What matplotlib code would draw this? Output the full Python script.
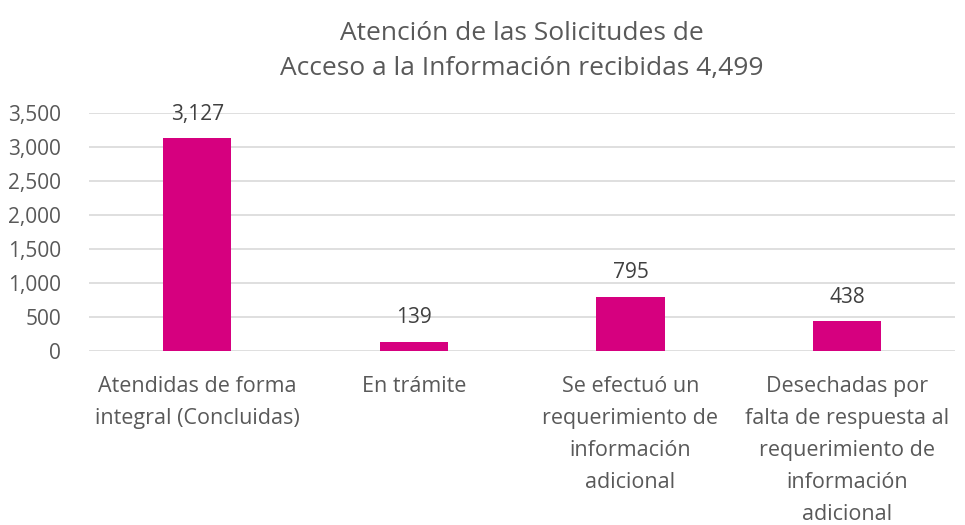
import matplotlib
matplotlib.use('Agg')
import matplotlib.pyplot as plt
from matplotlib.ticker import FuncFormatter

categories = [
    'Atendidas de forma\nintegral (Concluidas)',
    'En trámite',
    'Se efectuó un\nrequerimiento de\ninformación\nadicional',
    'Desechadas por\nfalta de respuesta al\nrequerimiento de\ninformación\nadicional',
]
values = [3127, 139, 795, 438]
title = 'Atención de las Solicitudes de\nAcceso a la Información recibidas 4,499'

plt.rcParams['font.family'] = ['Open Sans', 'DejaVu Sans']

fig = plt.figure(figsize=(9.65, 5.25), dpi=100)
ax = fig.add_axes([0.0922, 0.3314, 0.8978, 0.4534])

x = list(range(len(values)))
bars = ax.bar(x, values, width=0.315, color='#D6007F', zorder=3)
for b, v in zip(bars, values):
    ax.text(b.get_x() + b.get_width() / 2, v + 200, f'{v:,}',
            ha='center', va='bottom', fontsize=15, color='#404040')

ax.set_xlim(-0.5, len(values) - 0.5)
ax.set_ylim(0, 3500)
ax.set_yticks(range(0, 3501, 500))
ax.yaxis.set_major_formatter(FuncFormatter(lambda v, p: f'{int(v):,}'))
ax.yaxis.grid(True, color='#d9d9d9', linewidth=1.2, zorder=0)
ax.set_xticks(x)
ax.set_xticklabels(categories, fontsize=15.5, linespacing=1.68, va='top')
ax.tick_params(axis='both', length=0, labelcolor='#595959')
ax.tick_params(axis='y', labelsize=15, pad=20)
ax.tick_params(axis='x', pad=18)
for s in ax.spines.values():
    s.set_visible(False)

fig.text(0.541, 0.96, title, ha='center', va='top', fontsize=19,
         color='#595959', linespacing=1.5)

fig.savefig('out.png', dpi=100)
